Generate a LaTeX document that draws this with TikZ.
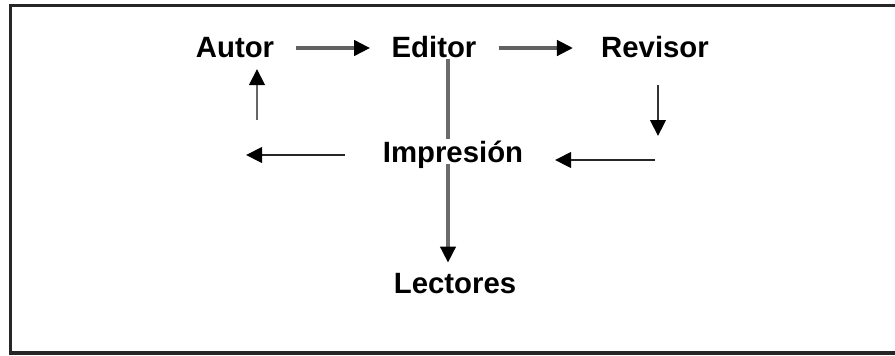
\documentclass[tikz,border=0pt]{standalone}
\usepackage{fontspec}
\setmainfont{Liberation Sans}
\usetikzlibrary{arrows.meta}
\begin{document}
\begin{tikzpicture}[x=0.75pt,y=-0.75pt,
  lbl/.style={font=\fontsize{22}{26}\selectfont\bfseries, inner sep=1pt, anchor=base},
  tip/.style={-{Triangle[length=12pt,width=11.5pt,color=black]}},
  toparr/.style={tip, draw=black!62, line width=2.6pt},
  looparr/.style={tip, draw=black!85, line width=2.2pt},
  gline/.style={draw=black!58, line width=2.4pt}
]
\clip (0,0) rectangle (895,355);
\useasboundingbox (0,0) rectangle (895,355);
\fill[white] (0,0) rectangle (895,355);
\draw[line width=2.3pt, black!85] (10.5,5.5) rectangle (910,353);

\node[lbl] (autor) at (235,57) {Autor};
\node[lbl] (editor) at (434,57) {Editor};
\node[lbl] (revisor) at (655,57) {Revisor};
\node[lbl] (impr) at (453,162) {Impresión};
\node[lbl] (lect) at (455,293) {Lectores};

\coordinate (ty) at (0,48);
\coordinate (vx) at (448,0);

\draw[toparr, shorten <=15pt, shorten >=15pt] (autor.east |- ty) -- (editor.west |- ty);
\draw[toparr, shorten <=15.5pt, shorten >=20pt] (editor.east |- ty) -- (revisor.west |- ty);

\coordinate (r1) at (658,85);
\coordinate (r2) at (658,136);
\coordinate (r3) at (655,160);
\coordinate (r4) at (555,160);
\coordinate (l1) at (345,155);
\coordinate (l2) at (246,155);
\coordinate (u1) at (257,120);
\coordinate (u2) at (257,69);

\draw[looparr, draw=black!80] (r1) -- (r2);
\draw[looparr] (r3) -- (r4);
\draw[looparr] (l1) -- (l2);
\draw[looparr, draw=black!60] (u1) -- (u2);

\draw[gline] (editor.south -| vx) -- (impr.north -| vx);
\draw[gline, tip, shorten <=-4.5pt, shorten >=6.5pt] (impr.south -| vx) -- (lect.north -| vx);
\end{tikzpicture}
\end{document}
